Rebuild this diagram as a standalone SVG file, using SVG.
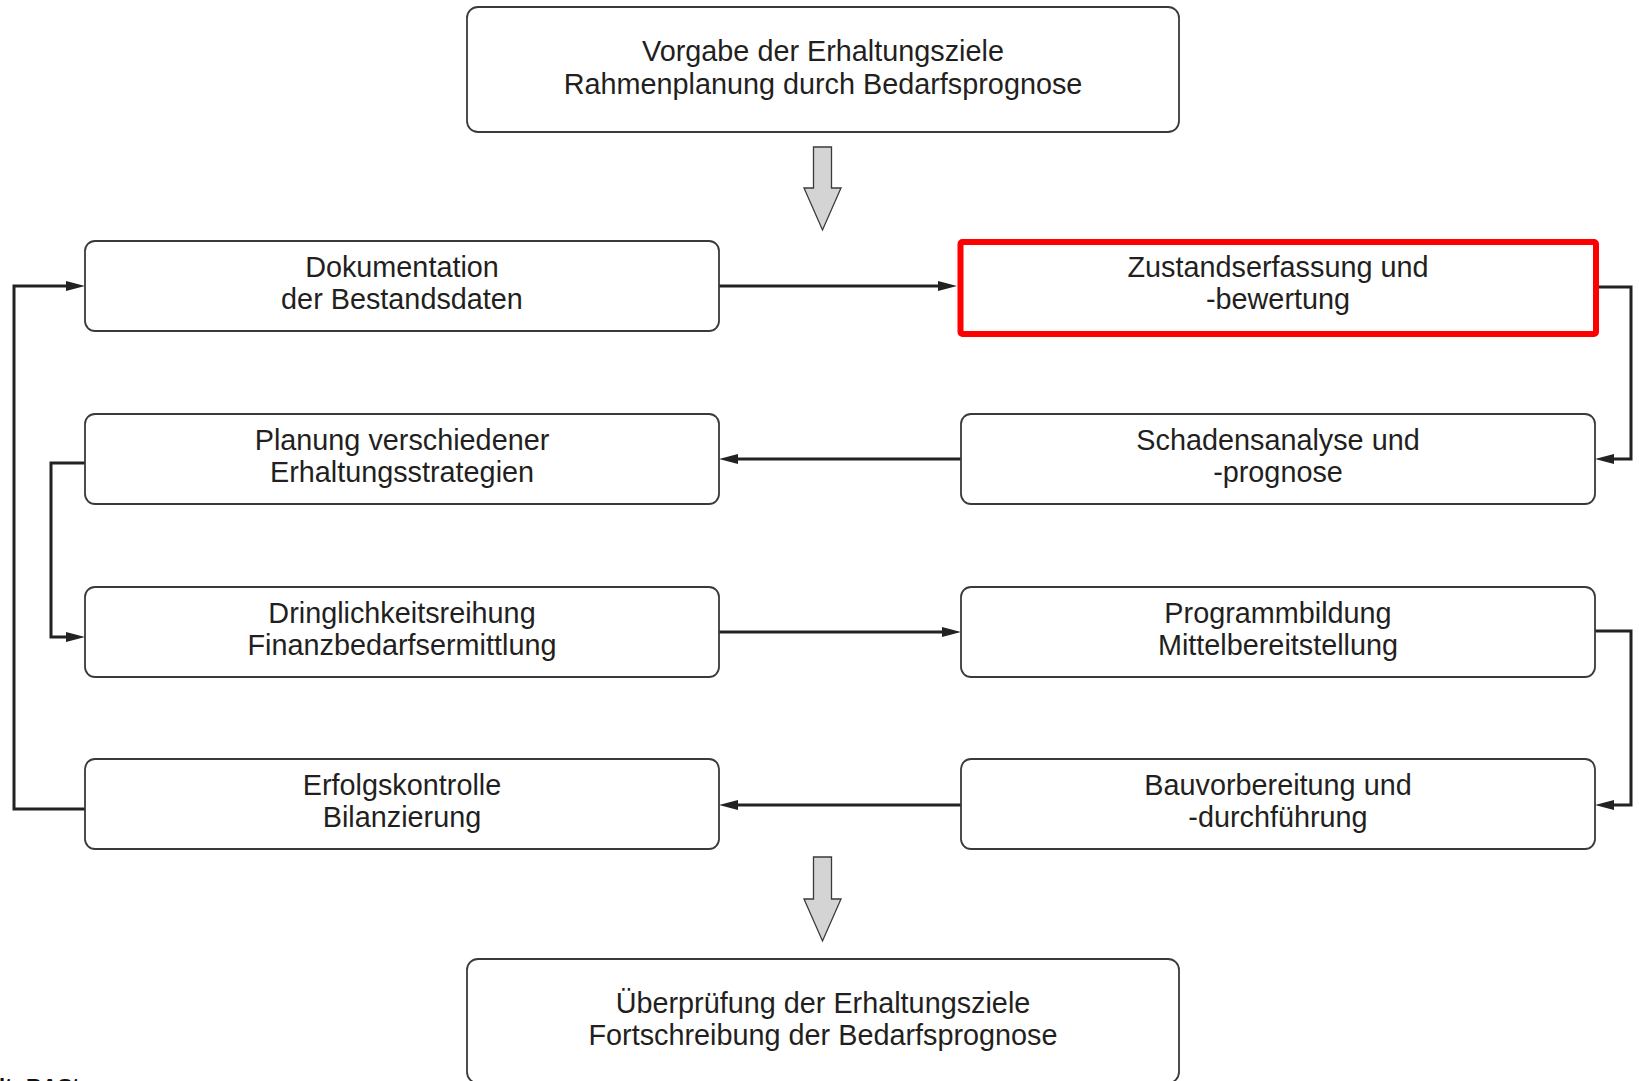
<svg xmlns="http://www.w3.org/2000/svg" width="1639" height="1081" viewBox="0 0 1639 1081">
<defs>
<style>
.box{fill:#fff;stroke:#3a3a3a;stroke-width:1.8}
.red{fill:#fff;stroke:#ff0000;stroke-width:6}
.t{font-family:"Liberation Sans",Arial,sans-serif;font-size:28.8px;fill:#231f20;text-anchor:middle}
.c{fill:none;stroke:#222;stroke-width:3}
.big{fill:#d4d4d4;stroke:#3a3a3a;stroke-width:1.3}
.src{font-family:"Liberation Sans",Arial,sans-serif;font-size:22px;font-weight:bold;fill:#111}
</style>
<marker id="ah" markerUnits="userSpaceOnUse" markerWidth="22" markerHeight="12" refX="11" refY="5.5" orient="auto">
<path d="M0,0.5 L19,5.5 L0,10.5 z" fill="#222"/>
</marker>
</defs>
<rect width="1639" height="1081" fill="#fff"/>

<g id="connectors">
<path class="c" d="M719,286 L949,286" marker-end="url(#ah)"/>
<path class="c" d="M1599,287 L1631,287 L1631,459 L1603,459" marker-end="url(#ah)"/>
<path class="c" d="M961,459 L727,459" marker-end="url(#ah)"/>
<path class="c" d="M85,463 L51,463 L51,637 L77,637" marker-end="url(#ah)"/>
<path class="c" d="M719,632 L953,632" marker-end="url(#ah)"/>
<path class="c" d="M1595,631 L1631,631 L1631,805 L1603,805" marker-end="url(#ah)"/>
<path class="c" d="M961,805 L727,805" marker-end="url(#ah)"/>
<path class="c" d="M85,809 L14,809 L14,286 L77,286" marker-end="url(#ah)"/>
<polygon class="big" points="813.5,147 831.5,147 831.5,188 841,188 822.5,230 804,188 813.5,188"/>
<polygon class="big" points="813.5,857 831.5,857 831.5,899 841,899 822.5,941 804,899 813.5,899"/>
</g>

<g id="top">
<rect class="box" x="467" y="7" width="712" height="125" rx="11"/>
<text class="t" x="823" y="61">Vorgabe der Erhaltungsziele</text>
<text class="t" x="823" y="93.5">Rahmenplanung durch Bedarfsprognose</text>
</g>

<g id="dokumentation">
<rect class="box" x="85" y="241" width="634" height="90" rx="10"/>
<text class="t" x="402" y="277">Dokumentation</text>
<text class="t" x="402" y="309">der Bestandsdaten</text>
</g>

<g id="zustand">
<rect class="red" x="960.5" y="242" width="635.5" height="92" rx="2"/>
<text class="t" x="1278" y="277">Zustandserfassung und</text>
<text class="t" x="1278" y="309">-bewertung</text>
</g>

<g id="planung">
<rect class="box" x="85" y="414" width="634" height="90" rx="10"/>
<text class="t" x="402" y="450">Planung verschiedener</text>
<text class="t" x="402" y="482">Erhaltungsstrategien</text>
</g>

<g id="schaden">
<rect class="box" x="961" y="414" width="634" height="90" rx="10"/>
<text class="t" x="1278" y="450">Schadensanalyse und</text>
<text class="t" x="1278" y="482">-prognose</text>
</g>

<g id="dringlichkeit">
<rect class="box" x="85" y="587" width="634" height="90" rx="10"/>
<text class="t" x="402" y="623">Dringlichkeitsreihung</text>
<text class="t" x="402" y="655">Finanzbedarfsermittlung</text>
</g>

<g id="programm">
<rect class="box" x="961" y="587" width="634" height="90" rx="10"/>
<text class="t" x="1278" y="623">Programmbildung</text>
<text class="t" x="1278" y="655">Mittelbereitstellung</text>
</g>

<g id="erfolg">
<rect class="box" x="85" y="759" width="634" height="90" rx="10"/>
<text class="t" x="402" y="795">Erfolgskontrolle</text>
<text class="t" x="402" y="827">Bilanzierung</text>
</g>

<g id="bau">
<rect class="box" x="961" y="759" width="634" height="90" rx="10"/>
<text class="t" x="1278" y="795">Bauvorbereitung und</text>
<text class="t" x="1278" y="827">-durchführung</text>
</g>

<g id="bottom">
<rect class="box" x="467" y="959" width="712" height="124" rx="11"/>
<text class="t" x="823" y="1012.5">Überprüfung der Erhaltungsziele</text>
<text class="t" x="823" y="1044.5">Fortschreibung der Bedarfsprognose</text>
</g>

<text class="src" x="-1" y="1094">lt: BASt</text>
</svg>
